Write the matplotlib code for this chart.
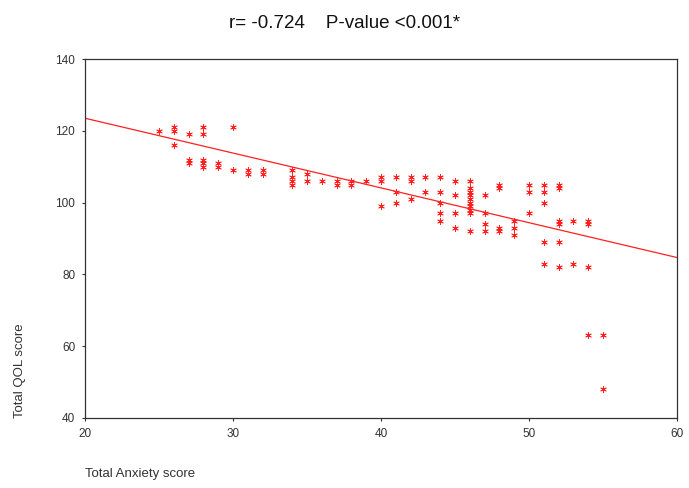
import numpy as np
import matplotlib
matplotlib.use("Agg")
from matplotlib import pyplot as plt

# valores (ansiedad total vs calidad de vida total)
anxiety = [25,
           26, 26, 26,
           27, 27, 27,
           28, 28, 28, 28, 28,
           29, 29,
           30, 30,
           31, 31,
           32, 32,
           34, 34, 34, 34,
           35, 35,
           36,
           37, 37,
           38, 38,
           39,
           40, 40, 40,
           41, 41, 41,
           42, 42, 42,
           43, 43,
           44, 44, 44, 44, 44,
           45, 45, 45, 45,
           46, 46, 46, 46, 46, 46, 46, 46, 46, 46,
           47, 47, 47, 47,
           48, 48, 48, 48,
           49, 49, 49,
           50, 50, 50,
           51, 51, 51, 51, 51,
           52, 52, 52, 52, 52, 52,
           53, 53,
           54, 54, 54, 54,
           55, 55]
qol = [120,
       121, 120, 116,
       119, 112, 111,
       121, 119, 112, 111, 110,
       111, 110,
       121, 109,
       109, 108,
       109, 108,
       109, 107, 106, 105,
       108, 106,
       106,
       106, 105,
       106, 105,
       106,
       107, 106, 99,
       107, 103, 100,
       107, 106, 101,
       107, 103,
       107, 103, 100, 97, 95,
       106, 102, 97, 93,
       106, 104, 103, 102, 101, 100, 99, 98, 97, 92,
       102, 97, 94, 92,
       105, 104, 93, 92,
       95, 93, 91,
       105, 103, 97,
       105, 103, 100, 89, 83,
       105, 104, 95, 94, 89, 82,
       95, 83,
       95, 94, 82, 63,
       63, 48]

# recta de regresión
fit_intercept = 142.9
fit_slope = -0.97

titulo = "r= -0.724    P-value <0.001*"
x_ticks = [20, 30, 40, 50, 60]
y_ticks = [40, 60, 80, 100, 120, 140]

plt.rcParams['font.family'] = ['Liberation Sans', 'DejaVu Sans']

fig = plt.figure(figsize=(6.89, 4.88), dpi=100)
ax = fig.add_axes([85/689, 1-418/488, (677-85)/689, (418-59)/488])

ast = (6, 2, 0)
ax.scatter(anxiety, qol, marker=ast, s=18, color='#ff2020', linewidths=0.6)

xs = np.array([20, 60])
ax.plot(xs, fit_intercept + fit_slope*xs, color='#ff2020', lw=0.9)

ax.set_xlim(20, 60)
ax.set_ylim(40, 140)
ax.set_xticks(x_ticks)
ax.set_yticks(y_ticks)
ax.tick_params(labelsize=8.5, length=2, width=0.8, colors='#333333', pad=5)
for s in ax.spines.values():
    s.set_linewidth(0.9)
    s.set_color('#333333')

fig.text(0.5, 1-24/488, titulo, ha='center', va='center', fontsize=13.5, color='#111111')
fig.text(85/689, 1-474/488, "Total Anxiety score", ha='left', va='center', fontsize=9.5, color='#333333')
fig.text(20/689, 1-418/488, "Total QOL score", ha='center', va='bottom', rotation=90,
         fontsize=9.5, color='#333333')

fig.savefig('out.png', dpi=100)
